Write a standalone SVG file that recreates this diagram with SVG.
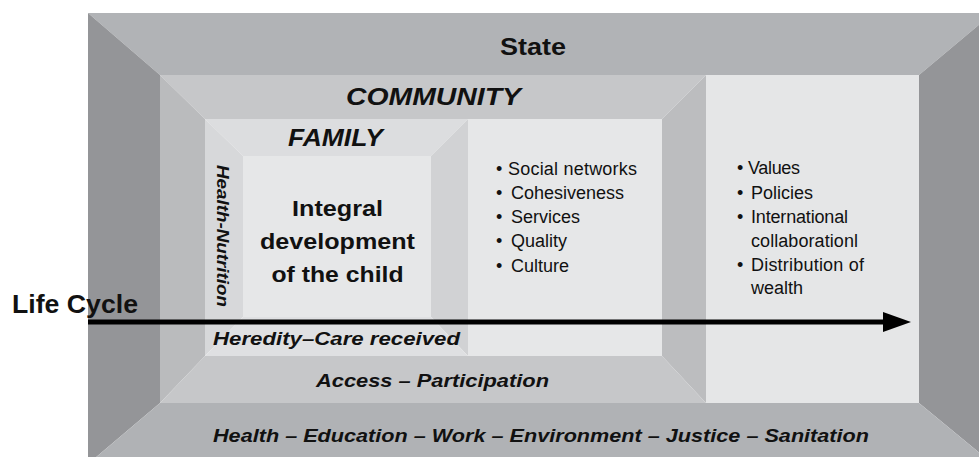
<svg xmlns="http://www.w3.org/2000/svg" width="979" height="457" viewBox="0 0 979 457">
<style>
  .t { font-family: "Liberation Sans", Arial, sans-serif; fill: #111; }
  .b { font-weight: bold; }
  .bi { font-weight: bold; font-style: italic; }
  .r { font-weight: normal; font-size: 18px; }
</style>
<defs>
  <marker id="arrowhead" markerUnits="userSpaceOnUse" markerWidth="28" markerHeight="20" refX="0" refY="10" orient="auto">
    <path d="M0,0 L28,10 L0,20 z" fill="#000"/>
  </marker>
</defs>
<rect width="979" height="457" fill="#fff"/>

<g id="state">
  <polygon points="88,13 993,13 919,75 160,75" fill="#b1b3b6"/>
  <polygon points="88,13 160,75 160,403 88,464" fill="#949598"/>
  <polygon points="993,13 919,75 919,403 993,464" fill="#949598"/>
  <polygon points="88,464 160,403 919,403 993,464" fill="#b0b2b5"/>
  <text class="t b" x="533" y="55" font-size="24" text-anchor="middle" textLength="66" lengthAdjust="spacingAndGlyphs">State</text>
  <text class="t bi" x="213" y="442" font-size="19" textLength="656" lengthAdjust="spacingAndGlyphs">Health – Education – Work – Environment – Justice – Sanitation</text>
</g>

<g id="state-panel">
  <rect x="706" y="75" width="213" height="328" fill="#e5e6e7"/>
  <g class="t r">
    <text x="737" y="174">•</text><text x="748" y="174" textLength="52">Values</text>
    <text x="737" y="199">•</text><text x="751" y="199" textLength="62">Policies</text>
    <text x="737" y="223">•</text><text x="751" y="223" textLength="97">International</text>
    <text x="751" y="247" textLength="107">collaborationl</text>
    <text x="737" y="271">•</text><text x="751" y="271" textLength="113">Distribution of</text>
    <text x="751" y="294" textLength="52">wealth</text>
  </g>
</g>

<g id="community">
  <polygon points="160,75 706,75 662,119 205,119" fill="#c6c7c9"/>
  <polygon points="160,75 205,119 205,356 160,403" fill="#babbbd"/>
  <polygon points="706,75 662,119 662,356 706,403" fill="#bcbdbf"/>
  <polygon points="160,403 205,356 662,356 706,403" fill="#c6c7c9"/>
  <text class="t bi" x="346" y="105" font-size="24" textLength="175" lengthAdjust="spacingAndGlyphs">COMMUNITY</text>
  <text class="t bi" x="316" y="387" font-size="19" textLength="233" lengthAdjust="spacingAndGlyphs">Access – Participation</text>
</g>

<g id="services">
  <rect x="468" y="119" width="194" height="237" fill="#e6e7e8"/>
  <g class="t r">
    <text x="496" y="175">•</text><text x="508" y="175" textLength="129">Social networks</text>
    <text x="496" y="199">•</text><text x="511" y="199" textLength="113">Cohesiveness</text>
    <text x="496" y="223">•</text><text x="511" y="223" textLength="69">Services</text>
    <text x="496" y="247">•</text><text x="511" y="247" textLength="56">Quality</text>
    <text x="496" y="272">•</text><text x="511" y="272" textLength="58">Culture</text>
  </g>
</g>

<g id="family">
  <polygon points="205,119 468,119 431,156 243,156" fill="#dcdddf"/>
  <polygon points="205,119 243,156 243,317 205,356" fill="#d7d8da"/>
  <polygon points="468,119 431,156 431,317 468,356" fill="#d1d2d4"/>
  <polygon points="205,356 243,317 431,317 468,356" fill="#dfe0e2"/>
  <text class="t bi" x="288" y="146" font-size="24" textLength="95" lengthAdjust="spacingAndGlyphs">FAMILY</text>
  <text class="t bi" transform="translate(217,165) rotate(90)" x="0" y="0" font-size="17" textLength="142" lengthAdjust="spacingAndGlyphs">Health-Nutrition</text>
  <text class="t bi" x="213" y="345" font-size="18" textLength="247" lengthAdjust="spacingAndGlyphs">Heredity–Care received</text>
</g>

<g id="child">
  <rect x="243" y="156" width="188" height="161" fill="#e6e7e8"/>
  <g class="t b" font-size="22" text-anchor="middle">
    <text x="337.5" y="216" textLength="91" lengthAdjust="spacingAndGlyphs">Integral</text>
    <text x="337.5" y="249" textLength="155" lengthAdjust="spacingAndGlyphs">development</text>
    <text x="337.5" y="282" textLength="132" lengthAdjust="spacingAndGlyphs">of the child</text>
  </g>
</g>

<g id="connectors">
  <line x1="88" y1="322" x2="883" y2="322" stroke="#000" stroke-width="5" marker-end="url(#arrowhead)"/>
</g>

<g id="life-cycle">
  <text class="t b" x="12" y="313" font-size="25" textLength="126" lengthAdjust="spacingAndGlyphs">Life Cycle</text>
</g>
</svg>
